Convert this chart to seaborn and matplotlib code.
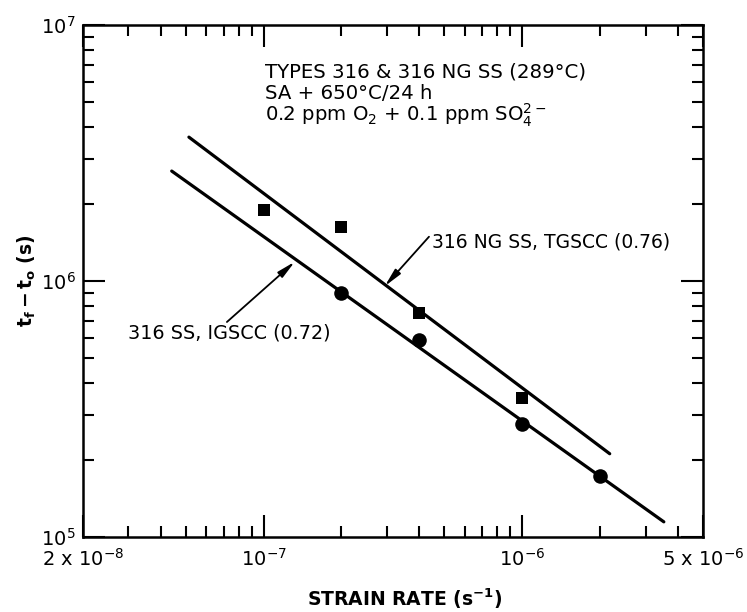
import numpy as np
import pandas as pd
import matplotlib
matplotlib.use("Agg")
import matplotlib.pyplot as plt
from matplotlib.ticker import LogLocator, NullFormatter, FixedLocator
import seaborn as sns

# Measured times to failure, Type 316 NG SS (transgranular cracking)
strain_rate_ng = [1e-7, 2e-7, 4e-7, 1e-6]
time_ng = [1.9e6, 1.63e6, 7.5e5, 3.5e5]

# Measured times to failure, Type 316 SS (intergranular cracking)
strain_rate_316 = [2e-7, 4e-7, 1e-6, 2e-6]
time_316 = [9.0e5, 5.9e5, 2.76e5, 1.73e5]

# Power-law fits: t = t0 * (rate / rate0) ** (-n)
fit_rate_ng = [5.14e-8, 2.18e-6]
fit_t0_ng = 3.65e6
exponent_ng = 0.76

fit_rate_316 = [4.41e-8, 3.53e-6]
fit_t0_316 = 2.69e6
exponent_316 = 0.72

x_ticks = [2e-8, 1e-7, 1e-6, 5e-6]
x_tick_labels = ["2 x $10^{-8}$", "$10^{-7}$", "$10^{-6}$", "5 x $10^{-6}$"]
y_ticks = [1e5, 1e6, 1e7]
y_tick_labels = ["$10^{5}$", "$10^{6}$", "$10^{7}$"]


def fit_frame(rates, t0, n):
    r = np.asarray(rates)
    return pd.DataFrame({"rate": r, "time": t0 * (r / r[0]) ** (-n)})


sns.set_theme(style="ticks")
plt.rcParams["font.family"] = ["DejaVu Sans"]
plt.rcParams["mathtext.default"] = "regular"
for key in ("text.color", "axes.labelcolor", "xtick.color", "ytick.color",
            "xtick.labelcolor", "ytick.labelcolor", "axes.edgecolor"):
    plt.rcParams[key] = "black"

fig = plt.figure(figsize=(7.47, 6.12), dpi=100)
ax = fig.add_axes([0.111, 0.1225, 0.83, 0.8365])
ax.set_xscale("log")
ax.set_yscale("log")

sns.lineplot(data=fit_frame(fit_rate_ng, fit_t0_ng, exponent_ng), x="rate", y="time",
             color="black", lw=2.3, ax=ax)
sns.lineplot(data=fit_frame(fit_rate_316, fit_t0_316, exponent_316), x="rate", y="time",
             color="black", lw=2.3, ax=ax)

sns.scatterplot(x=strain_rate_ng, y=time_ng, marker="s", s=80, color="black",
                edgecolor="black", linewidth=0, ax=ax, zorder=5)
sns.scatterplot(x=strain_rate_316, y=time_316, marker="o", s=110, color="black",
                edgecolor="black", linewidth=0, ax=ax, zorder=5)

ax.set_xlim(2e-8, 5e-6)
ax.set_ylim(1e5, 1e7)

ax.xaxis.set_major_locator(FixedLocator(x_ticks))
ax.set_xticklabels(x_tick_labels)
ax.xaxis.set_minor_locator(LogLocator(base=10, subs=np.arange(2, 10)))
ax.xaxis.set_minor_formatter(NullFormatter())
ax.yaxis.set_major_locator(FixedLocator(y_ticks))
ax.set_yticklabels(y_tick_labels)
ax.yaxis.set_minor_locator(LogLocator(base=10, subs=np.arange(2, 10)))
ax.yaxis.set_minor_formatter(NullFormatter())

ax.tick_params(which="both", direction="in", top=True, right=True,
               color="black", width=1.5)
ax.tick_params(which="major", length=16, labelsize=14, pad=5)
ax.tick_params(which="minor", length=8)
ax.tick_params(axis="x", which="major", pad=8)
for s in ax.spines.values():
    s.set_linewidth(1.8)
    s.set_color("black")

ax.set_xlabel("STRAIN RATE (s$^{-1}$)", fontsize=13.5, fontweight="bold")
ax.xaxis.set_label_coords(0.518, -0.096)
ax.set_ylabel("$t_f - t_o$ (s)", fontsize=13.5, fontweight="bold", labelpad=2)

# Test conditions
ax.text(0.2935, 0.8984, "TYPES 316 & 316 NG SS (289°C)", transform=ax.transAxes,
        fontsize=14.2, va="baseline", ha="left")
ax.text(0.2935, 0.8555, "SA + 650°C/24 h", transform=ax.transAxes,
        fontsize=14.2, va="baseline", ha="left")
ax.text(0.2935, 0.8125, "0.2 ppm O$_2$ + 0.1 ppm SO$_4^{2-}$", transform=ax.transAxes,
        fontsize=14.2, va="baseline", ha="left")

arrow = dict(arrowstyle="-|>,head_length=0.9,head_width=0.18", color="black",
             lw=1.3, shrinkA=0, shrinkB=0)
ax.annotate("", xy=(2.94e-7, 9.55e5), xytext=(4.36e-7, 1.49e6), arrowprops=arrow)
ax.text(4.48e-7, 1.42e6, "316 NG SS, TGSCC (0.76)", fontsize=13.5,
        va="center", ha="left")
ax.annotate("", xy=(1.32e-7, 1.19e6), xytext=(7.21e-8, 6.92e5), arrowprops=arrow)
ax.text(2.99e-8, 6.27e5, "316 SS, IGSCC (0.72)", fontsize=13.8,
        va="center", ha="left")

fig.savefig("out.png", dpi=100)
